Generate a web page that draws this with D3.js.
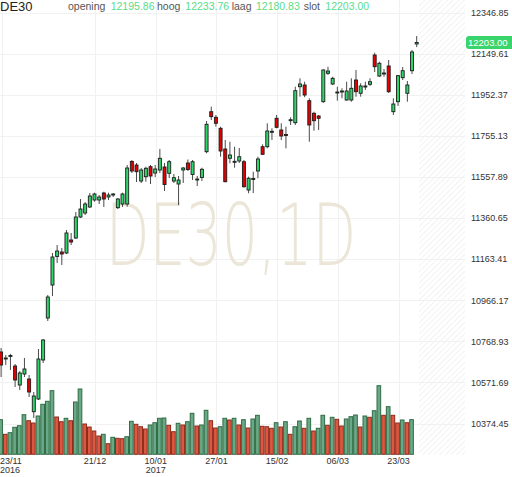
<!DOCTYPE html>
<html><head><meta charset="utf-8">
<script src="https://cdn.jsdelivr.net/npm/d3@7"></script>
<style>
html,body{margin:0;padding:0;background:#fff;}
svg{display:block;font-family:"Liberation Sans",Arial,sans-serif;}
</style></head><body>
<svg id="c" width="512" height="477"></svg>
<script>
// ---- data ----
const dates = [
"2016-11-23","2016-11-24","2016-11-25","2016-11-28","2016-11-29","2016-11-30",
"2016-12-01","2016-12-02","2016-12-05","2016-12-06","2016-12-07","2016-12-08","2016-12-09","2016-12-12","2016-12-13","2016-12-14","2016-12-15","2016-12-16","2016-12-19","2016-12-20","2016-12-21","2016-12-22","2016-12-23","2016-12-27","2016-12-28","2016-12-29","2016-12-30",
"2017-01-02","2017-01-03","2017-01-04","2017-01-05","2017-01-06","2017-01-09","2017-01-10","2017-01-11","2017-01-12","2017-01-13","2017-01-16","2017-01-17","2017-01-18","2017-01-19","2017-01-20","2017-01-23","2017-01-24","2017-01-25","2017-01-26","2017-01-27","2017-01-30","2017-01-31",
"2017-02-01","2017-02-02","2017-02-03","2017-02-06","2017-02-07","2017-02-08","2017-02-09","2017-02-10","2017-02-13","2017-02-14","2017-02-15","2017-02-16","2017-02-17","2017-02-20","2017-02-21","2017-02-22","2017-02-23","2017-02-24","2017-02-27","2017-02-28",
"2017-03-01","2017-03-02","2017-03-03","2017-03-06","2017-03-07","2017-03-08","2017-03-09","2017-03-10","2017-03-13","2017-03-14","2017-03-15","2017-03-16","2017-03-17","2017-03-20","2017-03-21","2017-03-22","2017-03-23","2017-03-24","2017-03-27","2017-03-28","2017-03-29"];

const open = [10717.6,10686.0,10700.0,10650.4,10559.2,10612.0,10588.0,10431.1,10492.0,10679.2,
10880.8,11039.1,11176.0,11197.5,11192.7,11255.1,11264.7,11365.4,11384.7,11413.5,
11447.0,11447.0,11480.6,11461.4,11473.4,11410.1,11427.8,11427.8,11631.8,11615.0,
11538.2,11558.9,11606.8,11576.6,11591.0,11605.4,11575.2,11538.2,11523.8,11591.0,
11624.6,11569.4,11545.4,11555.0,11678.8,11870.8,11843.9,11791.1,11691.8,11647.2,
11630.8,11634.2,11630.8,11495.0,11547.8,11586.2,11702.8,11702.8,11774.8,11839.1,
11783.0,11761.4,11831.0,11818.0,11990.8,11998.9,11923.6,11863.1,11850.2,11918.8,
12055.1,12003.7,11963.9,11968.7,11927.0,11927.0,12022.9,11959.1,11992.7,12002.3,
12142.9,12042.1,12055.1,12090.1,11870.8,11918.8,12034.0,11959.1,12067.5,12195.86];

const high = [10736.8,10703.2,10708.0,10660.0,10626.4,10688.8,10607.2,10525.6,10732.0,10780.0,
10991.1,11192.7,11231.1,11216.7,11303.1,11288.7,11389.4,11451.8,11437.4,11480.6,
11482.1,11471.0,11486.9,11482.1,11480.6,11456.6,11482.1,11615.0,11639.0,11624.6,
11600.6,11606.8,11615.0,11615.0,11691.8,11624.6,11639.0,11571.8,11562.2,11605.4,
11641.4,11639.0,11562.2,11602.0,11826.2,11894.8,11855.0,11798.8,11735.0,11726.8,
11702.8,11696.6,11639.0,11558.9,11582.8,11654.8,11714.3,11815.1,11791.1,11855.0,
11815.1,11798.8,11843.9,11990.8,12031.1,12014.8,11935.1,11870.8,11855.0,12074.3,
12086.7,12038.7,11990.8,11983.1,12014.8,12031.1,12070.9,12007.1,12014.8,12031.1,
12153.9,12110.7,12075.7,12118.9,11935.1,12046.9,12085.3,12018.1,12166.9,12233.76];

const low = [10597.6,10655.2,10631.2,10549.6,10535.2,10597.6,10501.6,10400.9,10487.2,10664.8,
10866.4,10986.3,11144.7,11135.1,11187.9,11231.1,11259.9,11360.7,11375.1,11408.6,
11438.9,11427.8,11413.5,11447.0,11461.4,11403.8,11413.5,11414.9,11576.6,11533.4,
11528.6,11534.9,11523.8,11557.4,11576.6,11490.2,11552.6,11528.6,11423.0,11528.6,
11586.2,11543.0,11514.2,11538.2,11671.2,11831.0,11798.8,11654.8,11532.0,11623.2,
11602.0,11624.6,11506.0,11479.2,11480.6,11551.2,11663.0,11695.1,11735.0,11791.1,
11735.0,11695.1,11807.0,11807.0,11942.8,11940.3,11726.8,11779.6,11783.0,11914.0,
12046.9,11998.9,11923.6,11935.1,11923.6,11918.8,11942.8,11942.8,11974.9,11994.1,
12061.3,12037.3,12038.7,11960.5,11855.0,11898.1,12022.9,11918.8,12051.7,12180.83];

const close = [10655.2,10688.8,10701.0,10583.2,10616.8,10636.0,10525.6,10506.4,10684.0,10775.2,
10981.5,11173.5,11202.3,11187.9,11288.7,11245.5,11365.4,11403.8,11427.8,11466.2,
11475.8,11461.4,11451.8,11471.0,11475.8,11451.8,11475.8,11600.6,11586.2,11582.8,
11591.0,11599.2,11562.2,11595.8,11647.2,11521.4,11630.8,11554.0,11543.0,11600.6,
11593.4,11630.8,11547.8,11594.4,11810.3,11846.8,11815.1,11682.2,11534.9,11663.0,
11632.7,11654.8,11510.8,11551.2,11550.2,11643.8,11666.3,11778.2,11776.7,11795.9,
11754.2,11759.0,11832.4,11971.6,12003.7,11950.9,11807.0,11827.6,11839.1,12070.9,
12066.1,12031.1,11965.3,11970.1,11970.1,11983.1,11966.8,11994.1,11994.1,12014.8,
12086.7,12103.1,12056.5,11966.8,11907.7,12043.6,12067.5,11998.9,12157.3,12203.00];

// volume (relative units); the current (last) session has no volume bar yet
const volume = [34.6,20.0,21.6,27.0,28.6,39.6,33.6,31.3,38.3,50.0,
53.0,63.6,37.3,32.6,36.0,33.6,52.3,65.3,30.3,27.3,
23.3,18.3,20.0,10.6,17.0,16.0,15.6,17.6,33.0,30.0,
27.6,25.3,29.3,31.6,36.0,36.3,29.0,22.6,31.0,29.3,
32.6,41.0,28.3,29.3,44.0,33.6,26.3,27.6,36.0,34.3,
36.0,29.3,34.6,26.3,35.3,39.0,28.0,27.6,26.0,31.6,
27.3,32.6,20.0,27.6,33.3,26.0,36.0,23.3,26.0,39.0,
29.0,37.0,35.0,28.3,35.3,37.6,39.3,27.3,38.3,37.0,
43.6,68.6,39.0,47.6,39.0,31.3,34.3,31.6,34.6];

const yTicks = [12346.85,12149.61,11952.37,11755.13,11557.89,11360.65,11163.41,10966.17,10768.93,10571.69,10374.45];
const xTickDates = ["2016-11-23","2016-12-21","2017-01-10","2017-01-27","2017-02-15","2017-03-06","2017-03-23"];
const xTickLabels = ["23/11","21/12","10/01","27/01","15/02","06/03","23/03"];
const xTickYears  = ["2016","","2017","","","",""];

const symbol = "DE30";
const watermark = "DE30,1D";
const infoLabels = ["opening","hoog","laag","slot"];

// ---- chart ----
const svg = d3.select("#c");
const x = d3.scalePoint().domain(dates).range([0.6, 416.2]);
const step = x.step();
const y = d3.scaleLinear().domain([10374.45, 12346.85]).range([423.5, 12.5]);
const yv = d3.scaleLinear().domain([0, 100]).range([454.3, 354.3]);
const last = dates.length - 1;

const defs = svg.append("defs");
const pat = defs.append("pattern").attr("id","hatch").attr("patternUnits","userSpaceOnUse")
  .attr("width",4).attr("height",4).attr("patternTransform","rotate(45)");
pat.append("line").attr("x1",0).attr("y1",0).attr("x2",0).attr("y2",4)
  .attr("stroke","#ebebeb").attr("stroke-width",1.3);

// future hatched area
svg.append("rect").attr("x",419).attr("y",0).attr("width",46).attr("height",455).attr("fill","url(#hatch)");

// grid
const grid = svg.append("g").attr("stroke","#f1f1f1").attr("stroke-width",1);
grid.selectAll("line.h").data(yTicks).join("line").attr("class","h")
  .attr("x1",0).attr("x2",465).attr("y1",d=>Math.round(y(d))+0.5).attr("y2",d=>Math.round(y(d))+0.5);
grid.selectAll("line.v").data(xTickDates).join("line").attr("class","v")
  .attr("x1",d=>Math.round(x(d))+1.5).attr("x2",d=>Math.round(x(d))+1.5).attr("y1",0).attr("y2",455);

// watermark (tall, narrow lettering)
svg.append("text").attr("x",0).attr("y",0).attr("text-anchor","middle")
  .attr("transform","translate(231,265) scale(1,1.5)")
  .attr("font-family","'DejaVu Sans',sans-serif").attr("font-weight",200)
  .attr("font-size",57).attr("fill","#ebe6d8")
  .text(watermark);

// volume bars
svg.append("g").selectAll("rect").data(volume).join("rect")
  .attr("x",(v,i)=>x(dates[i]) - step/2 + 0.5)
  .attr("width",step - 1)
  .attr("y",v=>yv(v))
  .attr("height",v=>yv(0) - yv(v))
  .attr("fill",(v,i)=> (i===0 || v >= volume[i-1]) ? "#6aa985" : "#dc5840")
  .attr("stroke",(v,i)=> (i===0 || v >= volume[i-1]) ? "#2f6b45" : "#8e2c1c")
  .attr("stroke-width",1);

// candles
const cg = svg.append("g");
cg.selectAll("line").data(dates).join("line")
  .attr("x1",d=>x(d)+0.5).attr("x2",d=>x(d)+0.5)
  .attr("y1",(d,i)=>y(high[i])).attr("y2",(d,i)=>y(low[i]))
  .attr("stroke","#4a4a4a").attr("stroke-width",1);
cg.selectAll("rect").data(dates).join("rect")
  .attr("x",d=>x(d)-1)
  .attr("width",3)
  .attr("y",(d,i)=>y(Math.max(open[i],close[i])))
  .attr("height",(d,i)=>Math.max(1, Math.abs(y(open[i]) - y(close[i]))))
  .attr("fill",(d,i)=> close[i] >= open[i] ? "#2fd66b" : "#e60000")
  .attr("stroke","#1c1c1c").attr("stroke-width",0.9);

// y axis labels
const yAxis = d3.axisRight(y).tickValues(yTicks).tickSize(0).tickPadding(0).tickFormat(d3.format(".2f"));
const ya = svg.append("g").attr("transform","translate(471,0)").call(yAxis);
ya.select(".domain").remove();
ya.attr("font-family","'Liberation Sans',Arial,sans-serif").attr("font-size",9);
ya.selectAll("text").attr("fill","#333");

// x axis labels
const xa = svg.append("g").attr("font-size",9).attr("fill","#333");
xa.selectAll("text.d").data(xTickDates).join("text").attr("class","d")
  .attr("x",(d,i)=> i===0 ? 0 : x(d)+1)
  .attr("text-anchor",(d,i)=> i===0 ? "start" : "middle")
  .attr("y",464).text((d,i)=>xTickLabels[i]);
xa.selectAll("text.yr").data(xTickDates).join("text").attr("class","yr")
  .attr("x",(d,i)=> i===0 ? 0 : x(d)+1)
  .attr("text-anchor",(d,i)=> i===0 ? "start" : "middle")
  .attr("y",473).text((d,i)=>xTickYears[i]);

// current price tag
const cy = y(close[last]);
svg.append("rect").attr("x",466).attr("y",cy-6.5).attr("width",50).attr("height",13).attr("rx",3)
  .attr("fill","#3ad46d");
svg.append("text").attr("x",468).attr("y",cy+3.3).attr("font-size",9.5).attr("fill","#fff")
  .text(d3.format(".2f")(close[last]));

// header
svg.append("text").attr("x",0).attr("y",10.5).attr("font-size",13).attr("fill","#222").text(symbol);
const infoVals = [open[last], high[last], low[last], close[last]];
const infoX = [68, 110.7, 157, 185.3, 231.7, 256, 303.7, 325.3];
const hdr = svg.append("g").attr("font-size",10.5);
infoLabels.forEach((lab,k)=>{
  hdr.append("text").attr("x",infoX[2*k]).attr("y",10).attr("fill","#555").text(lab);
  hdr.append("text").attr("x",infoX[2*k+1]).attr("y",10).attr("fill","#5bdc88").text(d3.format(".2f")(infoVals[k]));
});
</script>
</body></html>
